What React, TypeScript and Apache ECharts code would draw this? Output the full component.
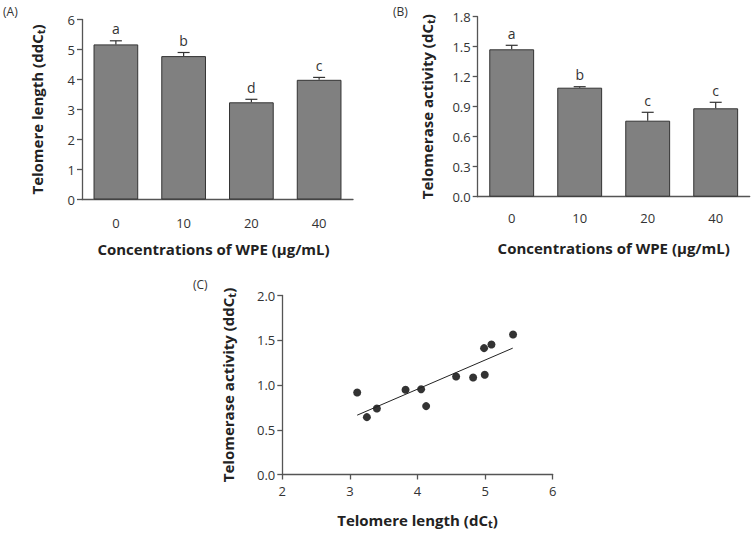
import React, { useEffect, useRef } from "react";
import * as echarts from "echarts";

const concentrations = ["0", "10", "20", "40"];
const lengthMean = [5.17, 4.78, 3.24, 3.99];
const lengthErrTop = [5.29, 4.9, 3.34, 4.07];
const lengthLetters = ["a", "b", "d", "c"];
const activityMean = [1.474, 1.09, 0.76, 0.884];
const activityErrTop = [1.514, 1.1, 0.844, 0.944];
const activityLetters = ["a", "b", "c", "c"];
const scatterX = [3.108, 3.251, 3.399, 3.823, 4.054, 4.128, 4.571, 4.823, 4.995, 4.985, 5.094, 5.414];
const scatterY = [0.916, 0.641, 0.737, 0.946, 0.953, 0.764, 1.095, 1.084, 1.114, 1.412, 1.453, 1.564];
const fitX = [3.108, 5.409];
const fitY = [0.663, 1.412];

const FONT = "'Open Sans', 'Noto Sans', sans-serif";
const AX = "#555";
const TXT = "#333";

export default function App() {
  const ref = useRef<HTMLDivElement>(null);
  useEffect(() => {
    document.body.style.margin = "0";
    const chart = echarts.init(ref.current!, null, { renderer: "svg" });
    const nameStyle = {
      fontFamily: FONT,
      fontSize: 15,
      fontWeight: "bold" as const,
      color: "#222",
      rich: {
        b: { fontFamily: FONT, fontSize: 15, fontWeight: "bold", color: "#222" },
        s: { fontFamily: FONT, fontSize: 11, fontWeight: "bold", color: "#222", padding: [7, 0, 0, 0] },
      },
    };
    const tickLabel = { fontFamily: FONT, fontSize: 13, color: TXT };
    const axisLine = { show: true, lineStyle: { color: AX, width: 1.3 } };
    const axisTick = { show: true, length: 5, lineStyle: { color: AX, width: 1.3 } };

    const errRender = (letters: string[]) => (params: any, api: any) => {
      const idx = api.value(0);
      const top = api.coord([idx, api.value(2)]);
      const base = api.coord([idx, api.value(1)]);
      return {
        type: "group",
        children: [
          { type: "line", shape: { x1: base[0], y1: base[1], x2: top[0], y2: top[1] }, style: { stroke: "#333", lineWidth: 1.2 } },
          { type: "line", shape: { x1: top[0] - 6, y1: top[1], x2: top[0] + 6, y2: top[1] }, style: { stroke: "#333", lineWidth: 1.2 } },
          {
            type: "text",
            x: top[0],
            y: top[1] - 12,
            style: { text: letters[params.dataIndex], fontFamily: FONT, fontSize: 14, fill: TXT, align: "center", verticalAlign: "middle" },
          },
        ],
      };
    };

    chart.setOption({
      animation: false,
      backgroundColor: "#fff",
      graphic: [
        { type: "text", left: 3, top: 5, style: { text: "(A)", fontFamily: FONT, fontSize: 12, fill: TXT } },
        { type: "text", left: 393, top: 5, style: { text: "(B)", fontFamily: FONT, fontSize: 12, fill: TXT } },
        { type: "text", left: 193, top: 278, style: { text: "(C)", fontFamily: FONT, fontSize: 12, fill: TXT } },
      ],
      grid: [
        { left: 82, top: 19.5, width: 271, height: 180 },
        { left: 477.7, top: 16.7, width: 272, height: 180 },
        { left: 282.3, top: 295.5, width: 270.4, height: 179 },
      ],
      xAxis: [
        {
          gridIndex: 0, type: "category", data: concentrations,
          axisLine, axisTick: { show: false }, axisLabel: { ...tickLabel, margin: 17 },
          name: "Concentrations of WPE (μg/mL)", nameLocation: "middle", nameGap: 42, nameTextStyle: { ...nameStyle, padding: [0, 8, 0, 0] },
        },
        {
          gridIndex: 1, type: "category", data: concentrations,
          axisLine, axisTick: { show: false }, axisLabel: { ...tickLabel, margin: 15 },
          name: "Concentrations of WPE (μg/mL)", nameLocation: "middle", nameGap: 44, nameTextStyle: nameStyle,
        },
        {
          gridIndex: 2, type: "value", min: 2, max: 6, interval: 1,
          axisLine, axisTick, splitLine: { show: false }, axisLabel: { ...tickLabel, margin: 10 },
          name: "{b|Telomere length (dC}{s|t}{b|)}", nameLocation: "middle", nameGap: 36, nameTextStyle: nameStyle,
        },
      ],
      yAxis: [
        {
          gridIndex: 0, type: "value", min: 0, max: 6, interval: 1,
          axisLine, axisTick, splitLine: { show: false }, axisLabel: { ...tickLabel, margin: 7 },
          name: "{b|Telomere length (ddC}{s|t}{b|)}", nameLocation: "middle", nameGap: 36, nameTextStyle: nameStyle,
        },
        {
          gridIndex: 1, type: "value", min: 0, max: 1.8, interval: 0.3,
          axisLine, axisTick, splitLine: { show: false },
          axisLabel: { ...tickLabel, margin: 7, formatter: (v: number) => v.toFixed(1) },
          name: "{b|Telomerase activity (dC}{s|t}{b|)}", nameLocation: "middle", nameGap: 42, nameTextStyle: nameStyle,
        },
        {
          gridIndex: 2, type: "value", min: 0, max: 2, interval: 0.5,
          axisLine, axisTick, splitLine: { show: false },
          axisLabel: { ...tickLabel, margin: 7, formatter: (v: number) => v.toFixed(1) },
          name: "{b|Telomerase activity (ddC}{s|t}{b|)}", nameLocation: "middle", nameGap: 45, nameTextStyle: nameStyle,
        },
      ],
      series: [
        {
          type: "bar", xAxisIndex: 0, yAxisIndex: 0, data: lengthMean, barWidth: "66%",
          itemStyle: { color: "#808080", borderColor: "#333", borderWidth: 1 },
        },
        {
          type: "custom", xAxisIndex: 0, yAxisIndex: 0,
          data: lengthMean.map((v, i) => [i, v, lengthErrTop[i]]),
          renderItem: errRender(lengthLetters), z: 5,
        },
        {
          type: "bar", xAxisIndex: 1, yAxisIndex: 1, data: activityMean, barWidth: "66%",
          itemStyle: { color: "#808080", borderColor: "#333", borderWidth: 1 },
        },
        {
          type: "custom", xAxisIndex: 1, yAxisIndex: 1,
          data: activityMean.map((v, i) => [i, v, activityErrTop[i]]),
          renderItem: errRender(activityLetters), z: 5,
        },
        {
          type: "scatter", xAxisIndex: 2, yAxisIndex: 2, symbolSize: 8,
          itemStyle: { color: "#000" },
          data: scatterX.map((x, i) => [x, scatterY[i]]),
        },
        {
          type: "line", xAxisIndex: 2, yAxisIndex: 2, symbol: "none",
          lineStyle: { color: "#222", width: 1 },
          data: fitX.map((x, i) => [x, fitY[i]]),
        },
      ],
    });
    return () => chart.dispose();
  }, []);
  return <div ref={ref} style={{ width: 755, height: 536 }} />;
}
